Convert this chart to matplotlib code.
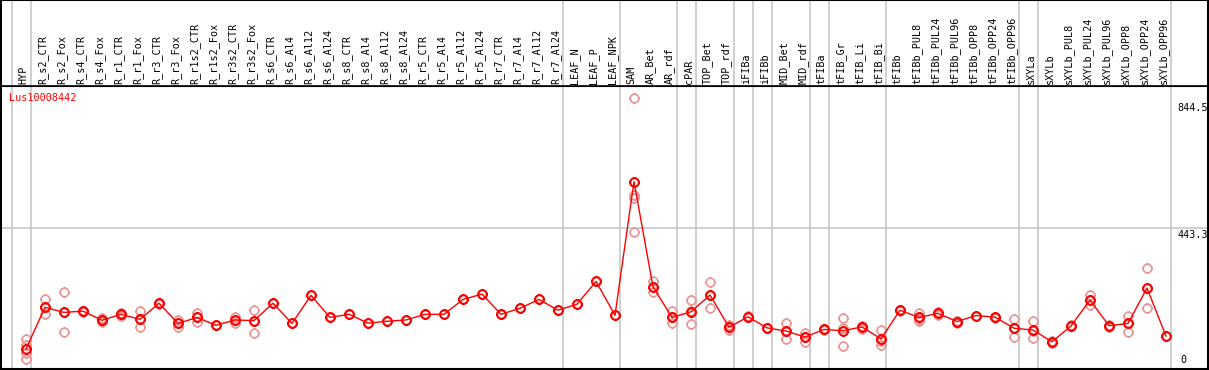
import matplotlib
matplotlib.use("Agg")
import matplotlib.pyplot as plt
from matplotlib.path import Path
import numpy as np

categories = ["HYP", "R_s2_CTR", "R_s2_Fox", "R_s4_CTR", "R_s4_Fox", "R_r1_CTR", "R_r1_Fox",
              "R_r3_CTR", "R_r3_Fox", "R_r1s2_CTR", "R_r1s2_Fox", "R_r3s2_CTR", "R_r3s2_Fox",
              "R_s6_CTR", "R_s6_Al4", "R_s6_Al12", "R_s6_Al24", "R_s8_CTR", "R_s8_Al4", "R_s8_Al12",
              "R_s8_Al24", "R_r5_CTR", "R_r5_Al4", "R_r5_Al12", "R_r5_Al24", "R_r7_CTR", "R_r7_Al4",
              "R_r7_Al12", "R_r7_Al24", "LEAF_N", "LEAF_P", "LEAF_NPK", "SAM", "AR_Bet", "AR_rdf",
              "cPAR", "TOP_Bet", "TOP_rdf", "iFIBa", "iFIBb", "MID_Bet", "MID_rdf", "tFIBa",
              "tFIB_Gr", "tFIB_Li", "tFIB_Bi", "tFIBb", "tFIBb_PUL8", "tFIBb_PUL24", "tFIBb_PUL96",
              "tFIBb_OPP8", "tFIBb_OPP24", "tFIBb_OPP96", "sXYLa", "sXYLb", "sXYLb_PUL8",
              "sXYLb_PUL24", "sXYLb_PUL96", "sXYLb_OPP8", "sXYLb_OPP24", "sXYLb_OPP96"]

means = [61, 193, 177, 181, 152, 171, 155, 206, 142, 161, 136, 153, 151,
         206, 142, 231, 161, 171, 143, 149, 153, 171, 171, 218, 235, 171, 190,
         218, 184, 203, 275, 168, 591, 258, 161, 179, 232, 130, 163, 128, 118,
         99, 123, 119, 131, 93, 184, 161, 174, 148, 167, 162, 127, 121, 84,
         134, 216, 135, 142, 254, 102]

replicates = [[93, 74, 47, 29], [218, 193, 171], [241, 177, 114], [183, 178, 182],
              [158, 150, 148], [176, 166, 171], [181, 155, 130], [208, 204, 206],
              [153, 142, 130], [174, 161, 148], [136], [163, 153, 142], [185, 151, 111],
              [206], [142], [231], [161], [171], [143], [149], [153], [171], [171],
              [218], [235], [171], [190], [218], [184], [203], [275], [168],
              [855, 549, 540, 432], [276, 258, 243], [181, 161, 142], [216, 180, 139],
              [272, 232, 192], [137, 130, 121], [166, 161, 163], [128], [142, 118, 92],
              [113, 99, 84], [125, 121, 123], [158, 127, 72], [134, 125, 133],
              [121, 85, 74], [186, 181, 184], [176, 157, 151], [177, 168, 176],
              [150, 142, 151], [167], [164, 158, 163], [155, 127, 98], [150, 118, 95],
              [88, 84, 79], [136, 133], [232, 216, 200], [138, 131], [166, 144, 116],
              [317, 254, 190], [102]]

group_ends = [-1, 0, 28, 31, 34, 35, 37, 38, 39, 41, 42, 45, 52, 53, 60]
ytick_vals = [844.5, 443.3, 0]
ytick_labels = ["844.5", "443.3", "0"]
gene_id = "Lus10008442"

W, H = 1209, 370
fig = plt.figure(figsize=(W / 100, H / 100), dpi=100)
fig.patch.set_facecolor("white")

mono = "DejaVu Sans Mono"
fs = 7.3

x_left = (1 - 26) / 19
x_right = (1207.5 - 26) / 19
plot_top_px, plot_bot_px = 85.5, 368.8
ax = fig.add_axes([1 / W, 1 - plot_bot_px / H, (1207.5 - 1) / W, (plot_bot_px - plot_top_px) / H])
lab = fig.add_axes([1 / W, 1 - plot_top_px / H, (1207.5 - 1) / W, plot_top_px / H], sharex=ax)

px_per_unit = 140 / 443.3
y0 = (368.3 - plot_bot_px) / px_per_unit
y1 = (368.3 - plot_top_px) / px_per_unit
ax.set_xlim(x_left, x_right)
ax.set_ylim(y0, y1)
lab.set_ylim(0, 1)

for a in (ax, lab):
    a.set_xticks([])
    a.set_yticks([])
    for s in a.spines.values():
        s.set_color("black")
        s.set_linewidth(1.5)
lab.spines["bottom"].set_linewidth(1.2)

grid_c = "#c4c4c4"
for g in group_ends:
    xv = g + 4.6 / 19
    ax.axvline(xv, color=grid_c, lw=1.1, zorder=1)
    lab.axvline(xv, color=grid_c, lw=1.1, zorder=1)
ax.axhline(443.3, color=grid_c, lw=1.1, zorder=1)

# marker: polygonal circle with four small ticks
th = np.linspace(0, 2 * np.pi, 41)
circ_verts = list(zip(np.cos(th), np.sin(th)))
circ_codes = [Path.MOVETO] + [Path.LINETO] * (len(circ_verts) - 2) + [Path.CLOSEPOLY]
tl = 1.25
tick_verts = [(0, 1), (0, tl), (0, -1), (0, -tl), (1, 0), (tl, 0), (-1, 0), (-tl, 0)]
tick_codes = [Path.MOVETO, Path.LINETO] * 4
mk = Path(circ_verts + tick_verts, circ_codes + tick_codes)
ms = 8.6 * tl / 1.389

xs = np.arange(len(categories))
pink = "#e99595"
for i, reps in enumerate(replicates):
    ax.plot([xs[i]] * len(reps), reps, linestyle="none", marker=mk, markersize=ms,
            markerfacecolor="none", markeredgecolor=pink, markeredgewidth=1.2, zorder=2)

ax.plot(xs, means, color="#ff0000", lw=1.0, zorder=3)
ax.plot(xs, means, linestyle="none", marker=mk, markersize=ms, markerfacecolor="none",
        markeredgecolor="#ff0000", markeredgewidth=1.5, zorder=4)

for i, c in enumerate(categories):
    lab.text(xs[i] - 2.2 / 19, 1 - 84 / plot_top_px, c, rotation=90, ha="center", va="bottom",
             fontsize=fs, family=mono, color="black")

for v, t in zip(ytick_vals, ytick_labels):
    if v == 0:
        ax.text((1180 - 26) / 19, 0.012, t, transform=ax.get_xaxis_transform(),
                ha="left", va="bottom", fontsize=fs, family=mono, color="black")
    else:
        ax.text((1177 - 26) / 19, v - 1.5 / px_per_unit, t, ha="left", va="top",
                fontsize=fs, family=mono, color="black")

ax.text((9 - 26) / 19, (368.3 - 98) / px_per_unit, gene_id, ha="left", va="center",
        fontsize=fs, family=mono, color="#ff0000")

fig.savefig("out.png", dpi=100)
